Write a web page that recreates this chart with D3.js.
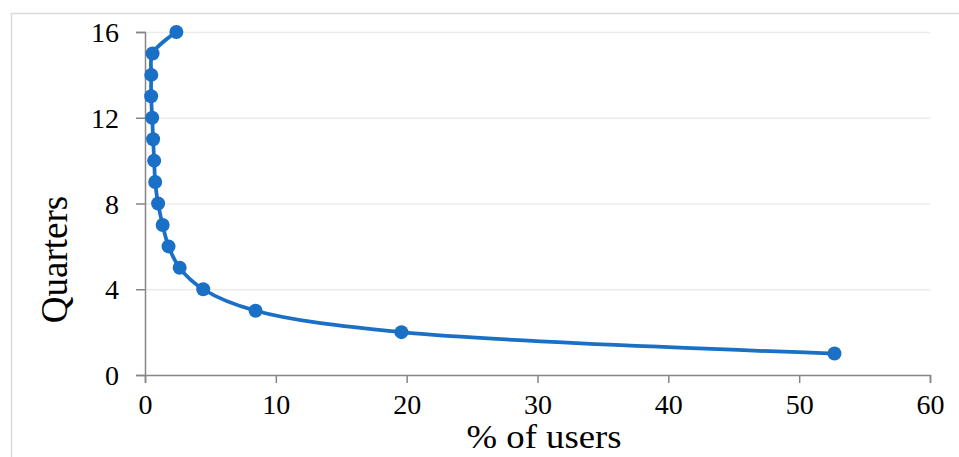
<!DOCTYPE html>
<html>
<head>
<meta charset="utf-8">
<script src="https://cdn.jsdelivr.net/npm/d3@7.9.0/dist/d3.min.js"></script>
<style>
  html, body { margin: 0; padding: 0; background: #fff; }
  svg { display: block; }
  text { font-family: "Liberation Serif", "Times New Roman", serif; fill: #000; }
</style>
</head>
<body>
<div id="chart"></div>
<script>
// quarters since signup vs share of users still active
const quarters = [1, 2, 3, 4, 5, 6, 7, 8, 9, 10, 11, 12, 13, 14, 15, 16];
const pctUsers = [52.7, 19.6, 8.45, 4.45, 2.65, 1.8, 1.35, 1.0, 0.78, 0.7, 0.62, 0.55, 0.47, 0.48, 0.58, 2.4];
const xTicks = [0, 10, 20, 30, 40, 50, 60];
const yTicks = [0, 4, 8, 12, 16];

const width = 959;
const height = 457;
const margin = { top: 32, right: 29, bottom: 82, left: 145 };

const points = quarters.map((q, i) => ({ q, pct: pctUsers[i] }));

const svg = d3.select('#chart').append('svg')
  .attr('width', width)
  .attr('height', height);

// outer chart frame
svg.append('rect')
  .attr('x', 11.5).attr('y', 13.5)
  .attr('width', width + 10).attr('height', height + 10)
  .attr('fill', 'none')
  .attr('stroke', '#d9d9d9')
  .attr('stroke-width', 1.5);

const usable = {
  left: margin.left,
  right: width - margin.right,
  top: margin.top,
  bottom: height - margin.bottom,
};
usable.width = usable.right - usable.left;

const xScale = d3.scaleLinear().domain([0, 60]).range([usable.left, usable.right]);
const yScale = d3.scaleLinear().domain([0, 16]).range([usable.bottom, usable.top]);

// gridlines
svg.append('g')
  .attr('transform', `translate(${usable.left},0)`)
  .call(d3.axisLeft(yScale).tickValues(yTicks.slice(1)).tickFormat('').tickSize(-usable.width))
  .call(g => g.select('.domain').remove())
  .call(g => g.selectAll('line').attr('stroke', '#ececec').attr('stroke-width', 1.5));

// y axis
svg.append('g')
  .attr('transform', `translate(${usable.left},0)`)
  .call(d3.axisLeft(yScale).tickValues(yTicks).tickSize(9).tickPadding(17))
  .call(g => g.select('.domain').attr('stroke', '#868686').attr('stroke-width', 1.5))
  .call(g => g.selectAll('line').attr('stroke', '#868686').attr('stroke-width', 1.5))
  .call(g => g.selectAll('text')
    .style('font-family', '"Liberation Serif", serif')
    .style('font-size', '28px')
    .attr('dy', '0.34em')
    .attr('fill', '#000'));

// x axis
svg.append('g')
  .attr('transform', `translate(0,${usable.bottom})`)
  .call(d3.axisBottom(xScale).tickValues(xTicks).tickSize(8).tickPadding(14))
  .call(g => g.select('.domain').attr('stroke', '#868686').attr('stroke-width', 1.5))
  .call(g => g.selectAll('line').attr('stroke', '#868686').attr('stroke-width', 1.5))
  .call(g => g.selectAll('text')
    .style('font-family', '"Liberation Serif", serif')
    .style('font-size', '28px')
    .attr('dy', '0.62em')
    .attr('fill', '#000'));

// axis titles (the original text is a bit wider than tall)
svg.append('text')
  .attr('transform', 'translate(544,448) scale(1.08,1)')
  .attr('text-anchor', 'middle')
  .style('font-size', '34px')
  .text('% of users');

svg.append('text')
  .attr('transform', `translate(67,${(usable.top + usable.bottom) / 2 + 56}) rotate(-90)`)
  .attr('text-anchor', 'middle')
  .style('font-size', '37px')
  .text('Quarters');

// smoothed line, Excel-style
const line = d3.line()
  .x(d => xScale(d.pct))
  .y(d => yScale(d.q))
  .curve(d3.curveCatmullRom.alpha(0.5));

svg.append('path')
  .datum(points)
  .attr('fill', 'none')
  .attr('stroke', '#1a6fc6')
  .attr('stroke-width', 3.75)
  .attr('d', line);

svg.append('g')
  .selectAll('circle')
  .data(points)
  .join('circle')
  .attr('cx', d => xScale(d.pct))
  .attr('cy', d => yScale(d.q))
  .attr('r', 7)
  .attr('fill', '#1a6fc6');
</script>
</body>
</html>
